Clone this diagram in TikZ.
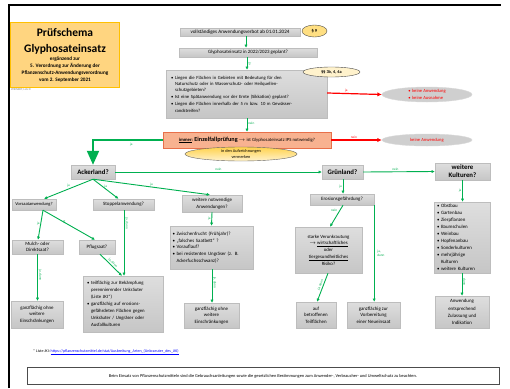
\documentclass[tikz,border=0pt]{standalone}
\usepackage{fontspec}
\setmainfont{Carlito}
\usetikzlibrary{arrows.meta,shapes.geometric,shadows}
\definecolor{gr}{HTML}{00B050}
\definecolor{boxtop}{HTML}{DEDEDE}
\definecolor{boxbot}{HTML}{C6C6C6}
\definecolor{boxline}{HTML}{BDBDBD}
\definecolor{ttl}{HTML}{FFD580}
\definecolor{ttlb}{HTML}{FFC000}
\definecolor{orng}{HTML}{F8B290}
\definecolor{orngb}{HTML}{E8704A}
\definecolor{ylt}{HTML}{FFF2CC}
\definecolor{yel}{HTML}{FFD24D}
\newcommand{\fsz}[2]{\fontsize{#1}{#2}\selectfont}
\newcommand{\bul}{\makebox[4pt][l]{\textbullet}}
\newcommand{\ind}{\hspace*{4pt}}
\begin{document}
\begin{tikzpicture}[x=1pt,y=-1pt,
  gbox/.style={draw=boxline, top color=boxtop, bottom color=boxbot, align=center, inner sep=0.5pt,
    font=\fsz{4.9}{6.6}, drop shadow={shadow xshift=0.8pt,shadow yshift=-0.8pt,opacity=0.3}},
  hbox/.style={gbox, font=\bfseries\fsz{6.8}{7.8}},
  sz/.style 2 args={minimum width=#1pt, minimum height=#2pt},
  gel/.style={ellipse, draw=gray!30, fill=gray!38, inner sep=0pt, text=red, font=\fsz{4.6}{6.8}},
  ga/.style={draw=gr, line width=0.9pt, -{Latex[length=3.2pt,width=3.2pt]}},
  ra/.style={draw=red, line width=1.2pt, -{Latex[length=4.5pt,width=4.5pt]}},
  lab/.style={font=\fsz{3.4}{4}, text=gr, inner sep=0.8pt},
  rlab/.style={font=\fsz{3.4}{4}, text=red, inner sep=0.8pt},
]
\useasboundingbox (0,0) rectangle (510,388);
\fill[white] (0,0) rectangle (510,388);
% frame
\draw[line width=2pt] (9,388) -- (9,5) -- (501,5);

% title
\node[draw=ttlb, fill=ttl, sz={109}{65}, inner sep=0pt] (title) at (64.5,54.5) {};
\node[font=\bfseries\fsz{11.5}{13}] (t1) at (65,33) {Prüfschema};
\node[font=\bfseries\fsz{11.5}{13}] (t2) at (65,49) {Glyphosateinsatz};
\node[font=\bfseries\fsz{5.2}{6.8}, align=center] (t3) at (65,69.5) {ergänzend zur\\5. Verordnung zur Änderung der\\Pflanzenschutz-Anwendungsverordnung\\vom 2. September 2021};
\node[font=\fsz{3}{3.5}, text=gray, anchor=west, inner sep=0pt] (auth) at (11,90) {WEINERT, LLG ©};

% top chain
\node[gbox, sz={120}{8}, font=\fsz{5.1}{6}] (verbot) at (240,32) {vollständiges Anwendungsverbot ab 01.01.2024};
\node[ellipse, draw=black!70, fill=yel!70, sz={25}{12}, inner sep=0pt, font=\bfseries\fsz{4.5}{5}] (p9) at (314.5,31) {§ 9};
\node[gbox, sz={138}{9}, font=\fsz{4.9}{6}] (geplant) at (248,52.5) {Glyphosateinsatz in 2022/2023 geplant?};
\node[gbox, sz={161}{48}, text width=151pt, inner xsep=5pt, align=left, font=\fsz{4.7}{6.3}] (bigq) at (246.5,94) {%
\bul Liegen die Flächen in Gebieten mit Bedeutung für den\\
\ind Naturschutz oder in Wasserschutz- oder Heilquellen-\\
\ind schutzgebieten?\\[0.8pt]
\bul Ist eine Spätanwendung vor der Ernte (Sikkation) geplant?\\[0.8pt]
\bul Liegen die Flächen innerhalb der 5 m bzw. 10 m Gewässer-\\
\ind randstreifen?};
\node[ellipse, draw=black!70, fill=ylt, sz={57}{10}, inner sep=0pt, font=\bfseries\fsz{4.3}{5}] (p3) at (331.5,72) {§§ 3b, 4, 4a};
\node[gel, sz={90}{15}, align=left] (kA1) at (427,94.5) {\bul keine Anwendung\\\bul keine Ausnahme};

\node[draw=orngb, fill=orng, sz={168}{16}, inner sep=0pt, font=\fsz{4.7}{6}, drop shadow={shadow xshift=0.8pt,shadow yshift=-0.8pt,opacity=0.3}] (einzel) at (247,140)
  {\textbf{\underline{immer}:} {\bfseries\fsz{6.2}{7}Einzelfallprüfung} $\rightarrow$ ist Glyphosateinsatz IPS notwendig?};
\node[ellipse, draw=black!60, top color=yel, bottom color=ylt, sz={112}{14}, inner sep=0pt, align=center, font=\fsz{4.3}{5.3}] (verm) at (241,154) {in den Aufzeichnungen\\vermerken};
\node[gel, sz={90}{12}] (kA2) at (427,140) {keine Anwendung};

% main categories
\node[hbox, sz={44}{14}] (acker) at (93,172) {Ackerland?};
\node[hbox, sz={41}{14}] (gruen) at (342.5,172) {Grünland?};
\node[hbox, sz={55}{17}] (wk) at (462.5,171.5) {weitere\\Kulturen?};

% Ackerland branch
\node[gbox, sz={44}{11}, font=\fsz{4.5}{6}] (vorsaat) at (34,204.5) {Vorsaatanwendung?};
\node[gbox, sz={61}{11}] (stoppel) at (123.5,204.5) {Stoppelanwendung?};
\node[gbox, sz={60}{17}] (wnotw) at (212,203.5) {weitere notwendige\\Anwendungen?};
\node[gbox, sz={51}{14}] (mulch) at (37.5,247) {Mulch- oder\\Direktsaat?};
\node[gbox, sz={36}{14}] (pflug) at (97,247) {Pflugsaat?};
\node[gbox, sz={80}{56}, text width=72pt, inner xsep=4pt, align=left, font=\fsz{4.8}{6.9}] (teilfl) at (123,304) {%
\bul teilflächig zur Bekämpfung\\
\ind perennierender Unkräuter\\
\ind (Liste JKI*)\\
\bul ganzflächig auf erosions-\\
\ind gefährdeten Flächen gegen\\
\ind Unkräuter / Ungräser oder\\
\ind Ausfallkulturen};
\node[gbox, sz={83}{43}, text width=78pt, inner xsep=2.5pt, align=left] (zw) at (211.5,247.5) {%
\bul Zwischenfrucht (Frühjahr)?\\
\bul „falsches Saatbett“ ?\\
\bul Vorauflauf?\\
\bul bei resistenten Ungräser (z. B.\\
\ind Ackerfuchsschwanz)?};
\node[gbox, sz={52}{27}] (ganz1) at (37,314.5) {ganzflächig ohne\\weitere\\Einschränkungen};
\node[gbox, sz={55}{25}] (ganz2) at (211.5,315.5) {ganzflächig ohne\\weitere\\Einschränkungen};

% Grünland branch
\node[gbox, sz={64}{11}] (eros) at (342,199.5) {Erosionsgefährdung?};
\node[gbox, sz={67}{46}, font=\fsz{4.8}{6.7}] (starke) at (328.5,250) {starke Verunkrautung\\$\rightarrow$ \underline{wirtschaftliches}\\oder\\\underline{tiergesundheitliches}\\Risiko?};
\node[gbox, sz={40}{26}] (aufb) at (316,315) {auf\\betroffenen\\Teilflächen};
\node[gbox, sz={53}{26}] (neue) at (373.5,315) {ganzflächig zur\\Vorbereitung\\einer Neueinsaat};

% weitere Kulturen branch
\node[gbox, sz={56}{71}, text width=50pt, inner xsep=3pt, align=left, font=\fsz{4.9}{7}] (kl) at (462,237.5) {%
\bul Obstbau\\\bul Gartenbau\\\bul Zierpflanzen\\\bul Baumschulen\\\bul Weinbau\\\bul Hopfenanbau\\\bul Sonderkulturen\\\bul mehrjährige\\\ind Kulturen\\\bul weitere Kulturen};
\node[gbox, sz={54}{32}, font=\fsz{4.9}{7.2}] (anw) at (462,312) {Anwendung\\entsprechend\\Zulassung und\\Indikation};

% connectors top
\draw[ga] ([xshift=6pt]verbot.south) -- ([xshift=-2pt]geplant.north);
\draw[ga] ([xshift=-1pt]geplant.south) -- node[lab, right, rotate=-90, anchor=south] {ja} ([xshift=0.5pt]bigq.north);
\draw[ra] ([yshift=1pt]bigq.east) -- node[rlab, above, pos=0.35] {ja} (kA1.west);
\draw[ga] ([xshift=0.5pt]bigq.south) -- node[lab, right, pos=0.4] {nein} (einzel.north);
\draw[ra] (einzel.east) -- node[rlab, above, pos=0.45] {nein} (kA2.west);
\coordinate (bend) at (93,140);
\draw[draw=gr, line width=2pt] (einzel.west) -- node[lab, below=1pt, pos=0.45] {ja} (bend) -- (93,150);
\draw[draw=gr, line width=2pt, -{Triangle[length=14pt,width=12pt]}] (93,149) -- (acker.north);

% categories
\draw[ga] (acker.east) -- node[lab, above, pos=0.5] {nein} (gruen.west);
\draw[ga] (gruen.east) -- node[lab, above, pos=0.45] {nein} (wk.west);
\draw[ga] (acker.south) -- node[lab, above left, pos=0.45] {ja} ([xshift=10pt]vorsaat.north);
\draw[ga] (acker.south) -- node[lab, right, pos=0.4] {ja} ([xshift=-5pt]stoppel.north);
\draw[ga] (acker.south) -- node[lab, above, pos=0.5] {ja} ([xshift=-2pt]wnotw.north);
\draw[ga] ([xshift=9pt]vorsaat.south) -- node[lab, left, pos=0.45] {ja} ([xshift=0.5pt]mulch.north);
\draw[ga] ([xshift=9pt]vorsaat.south) -- node[lab, sloped, above, pos=0.45, rotate=90] {ja} ([xshift=-2pt]pflug.north);
\draw[ga] (mulch.south) -- node[lab, rotate=-90, anchor=south, pos=0.45] {ja, dann} (mulch.south |- ganz1.north);
\draw[ga] ([xshift=0.5pt]stoppel.south) -- node[lab, rotate=-90, anchor=south, pos=0.2] {ja, dann} ([xshift=1pt]teilfl.north);
\draw[ga] ([xshift=3pt]pflug.south) -- node[lab, sloped, above, pos=0.5] {ja, dann} ([xshift=-1pt]teilfl.north);
\draw[ga] (wnotw.south) -- node[lab, left, pos=0.5] {ja} (zw.north);
\draw[ga] ([xshift=0.5pt]zw.south) -- node[lab, rotate=-90, anchor=south, pos=0.4] {ja, dann} ([xshift=0.5pt]ganz2.north);

\draw[ga] ([xshift=0.5pt]gruen.south) -- node[lab, left, pos=0.5] {ja} ([xshift=1pt]eros.north);
\draw[ga] ([xshift=1pt]eros.south) -- node[lab, above left, pos=0.35] {nein} ([xshift=1.5pt]starke.north);
\draw[ga] ([xshift=-0.5pt]starke.south) -- node[lab, sloped, above, pos=0.45] {ja, dann} ([xshift=1pt]aufb.north);
\draw[ga] (eros.south east) -- node[lab, right=2pt, align=left, pos=0.5] {ja,\\dann} (eros.south east |- neue.north);

\draw[ga] (wk.south) -- node[lab, left, pos=0.5] {ja} (wk.south |- kl.north);
\draw[ga] (kl.south) -- node[lab, rotate=-90, anchor=south, pos=0.4] {dann} (kl.south |- anw.north);

% footer
\node[anchor=west, font=\fsz{4}{5}, inner sep=0pt] (liste) at (33,352) {* Liste JKI: \textcolor{blue}{\underline{https://pflanzenschutzmittel.de/stat/Ausbreitung\_Arten\_(Unkraeuter\_des\_JKI)}}};
\node[draw=black!70, sz={472}{17}, inner sep=0pt, font=\fsz{4.4}{5}] (foot) at (263,376) {Beim Einsatz von Pflanzenschutzmitteln sind die Gebrauchsanleitungen sowie die gesetzlichen Bestimmungen zum Anwender-, Verbraucher- und Umweltschutz zu beachten.};
\end{tikzpicture}
\end{document}
